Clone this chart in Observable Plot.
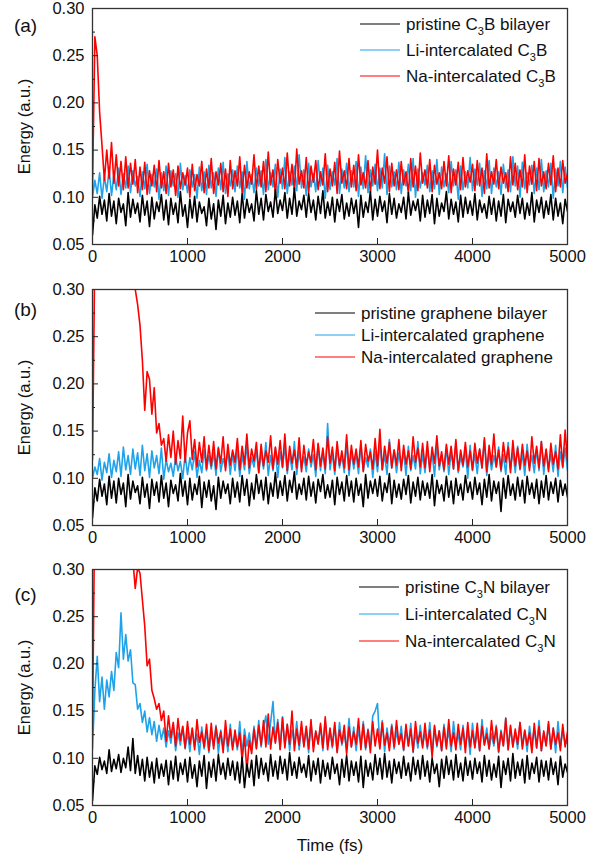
<!DOCTYPE html>
<html><head><meta charset="utf-8">
<script src="https://cdn.jsdelivr.net/npm/d3@7"></script>
<script src="https://cdn.jsdelivr.net/npm/@observablehq/plot@0.6"></script>
<style>
body{margin:0;background:#fff;}
#chart{width:599px;}
#chart svg{display:block;}
</style></head><body><div id="chart"></div>
<script>
// sampling interval of the time series (fs)
const timeStepFs = 25;
const xTicks = [0, 1000, 2000, 3000, 4000, 5000];
const yTicks = [0.05, 0.10, 0.15, 0.20, 0.25, 0.30];
const yMinorTicks = [0.075, 0.125, 0.175, 0.225, 0.275];
const panelLabels = ["(a)", "(b)", "(c)"];
const namesC3B = ["pristine C_3B bilayer", "Li-intercalated C_3B", "Na-intercalated C_3B"];
const namesGraphene = ["pristine graphene bilayer", "Li-intercalated graphene", "Na-intercalated graphene"];
const namesC3N = ["pristine C_3N bilayer", "Li-intercalated C_3N", "Na-intercalated C_3N"];
const seriesColors = ["#000000", "#1ea3ea", "#ff0000"];

// ---- (a) C3B ----
const pristineC3B = [
.060,.092,.078,.101,.082,.097,.075,.104,.080,.096,
.072,.099,.084,.093,.070,.105,.079,.098,.083,.094,
.074,.102,.081,.096,.069,.100,.077,.095,.085,.103,
.076,.097,.071,.099,.082,.094,.073,.106,.080,.092,
.068,.098,.078,.101,.074,.095,.083,.090,.070,.099,
.077,.093,.066,.097,.080,.102,.072,.094,.079,.100,
.081,.096,.073,.104,.078,.098,.084,.093,.075,.107,
.082,.099,.076,.103,.085,.095,.079,.108,.083,.097,
.086,.105,.078,.099,.082,.110,.080,.096,.087,.102,
.079,.104,.084,.097,.076,.101,.083,.107,.078,.095,
.081,.100,.074,.098,.085,.103,.077,.094,.080,.099,
.083,.097,.068,.102,.079,.095,.084,.106,.076,.098,
.080,.101,.085,.096,.073,.104,.082,.099,.078,.093,
.084,.100,.077,.105,.081,.096,.086,.098,.075,.102,
.079,.097,.083,.103,.072,.099,.080,.094,.085,.106,
.077,.098,.082,.095,.074,.102,.079,.100,.083,.096,
.081,.104,.076,.097,.084,.093,.078,.101,.082,.099,
.075,.096,.080,.103,.073,.098,.085,.095,.079,.102,
.083,.099,.077,.094,.081,.105,.074,.097,.084,.100,
.078,.096,.082,.103,.076,.099,.080,.094,.072,.098,
.085];
const liC3B = [
.100,.118,.104,.126,.099,.122,.106,.130,.102,.124,
.108,.131,.103,.125,.110,.133,.105,.128,.112,.122,
.101,.127,.109,.135,.104,.124,.111,.130,.098,.126,
.107,.133,.102,.128,.112,.125,.100,.136,.108,.123,
.105,.129,.111,.124,.099,.132,.107,.127,.103,.134,
.110,.126,.101,.131,.108,.137,.104,.125,.112,.129,
.106,.133,.110,.127,.098,.138,.109,.124,.105,.131,
.112,.128,.103,.140,.108,.126,.111,.135,.100,.130,
.109,.142,.104,.127,.113,.133,.107,.145,.110,.129,
.102,.136,.111,.125,.106,.139,.112,.131,.099,.134,
.108,.127,.113,.141,.104,.130,.110,.136,.106,.128,
.111,.138,.101,.132,.109,.144,.105,.129,.112,.135,
.107,.131,.110,.146,.103,.133,.111,.127,.108,.137,
.104,.129,.112,.135,.107,.141,.100,.130,.110,.126,
.113,.134,.106,.128,.109,.140,.103,.132,.111,.125,
.105,.138,.112,.129,.098,.133,.108,.127,.110,.142,
.107,.130,.113,.136,.101,.128,.109,.139,.104,.131,
.111,.127,.103,.135,.110,.129,.106,.143,.112,.133,
.100,.137,.109,.126,.113,.134,.104,.131,.108,.140,
.106,.128,.111,.136,.099,.130,.112,.138,.105,.132,
.110];
const naC3B = [
.110,.270,.250,.190,.155,.118,.150,.120,.158,.115,
.145,.112,.138,.108,.143,.110,.136,.114,.140,.105,
.132,.108,.137,.103,.128,.112,.134,.106,.139,.110,
.127,.104,.136,.111,.129,.102,.133,.109,.126,.113,
.131,.100,.135,.107,.124,.112,.138,.105,.130,.110,
.141,.104,.127,.113,.136,.106,.130,.101,.139,.109,
.128,.112,.143,.105,.134,.110,.127,.114,.145,.108,
.133,.111,.138,.106,.148,.113,.129,.104,.140,.115,
.131,.109,.147,.112,.135,.107,.151,.114,.128,.110,
.142,.105,.133,.116,.139,.108,.127,.113,.146,.106,
.130,.112,.137,.104,.149,.115,.128,.109,.141,.111,
.134,.107,.145,.113,.126,.110,.139,.105,.132,.114,
.150,.109,.131,.115,.143,.106,.136,.112,.129,.108,
.138,.113,.127,.104,.141,.111,.133,.107,.147,.115,
.129,.110,.140,.106,.134,.114,.126,.109,.138,.112,
.144,.105,.130,.113,.137,.108,.142,.111,.128,.116,
.135,.107,.139,.112,.131,.104,.146,.110,.127,.114,
.140,.109,.132,.115,.126,.106,.143,.113,.136,.108,
.129,.111,.145,.105,.133,.114,.138,.107,.141,.112,
.127,.109,.136,.113,.144,.106,.131,.111,.139,.115,
.125];

// ---- (b) graphene ----
const pristineGraphene = [
.058,.090,.076,.099,.081,.094,.072,.102,.079,.097,
.074,.100,.083,.095,.070,.104,.078,.097,.085,.092,
.073,.101,.080,.094,.068,.099,.082,.096,.075,.103,
.079,.095,.070,.098,.084,.093,.076,.105,.081,.097,
.072,.100,.077,.094,.083,.102,.069,.096,.080,.098,
.076,.092,.067,.101,.079,.097,.084,.094,.073,.100,
.080,.096,.075,.103,.082,.099,.071,.095,.078,.104,
.084,.098,.077,.101,.073,.095,.081,.106,.079,.097,
.082,.103,.076,.098,.085,.107,.078,.094,.083,.100,
.077,.102,.081,.096,.074,.099,.086,.104,.079,.093,
.080,.098,.072,.101,.083,.096,.076,.103,.081,.097,
.075,.100,.082,.094,.070,.104,.079,.097,.084,.099,
.081,.102,.076,.095,.085,.105,.073,.098,.080,.094,
.078,.099,.083,.103,.074,.096,.081,.101,.077,.097,
.082,.095,.079,.104,.071,.098,.084,.093,.076,.102,
.080,.097,.073,.100,.082,.094,.077,.103,.085,.096,
.078,.101,.083,.095,.072,.099,.080,.104,.076,.097,
.084,.096,.065,.100,.079,.103,.082,.094,.077,.101,
.081,.098,.074,.102,.083,.095,.079,.099,.073,.097,
.080,.103,.077,.096,.084,.100,.075,.098,.082,.094,
.080];
const liGraphene = [
.100,.112,.104,.121,.098,.117,.106,.126,.101,.119,
.107,.128,.102,.133,.109,.124,.104,.131,.110,.127,
.103,.135,.108,.126,.101,.129,.111,.124,.105,.132,
.099,.120,.107,.116,.102,.123,.108,.118,.100,.125,
.104,.122,.109,.128,.101,.119,.106,.130,.108,.124,
.110,.127,.103,.133,.107,.121,.111,.129,.104,.126,
.108,.131,.102,.125,.109,.136,.105,.122,.112,.130,
.106,.127,.110,.138,.103,.124,.108,.132,.101,.128,
.111,.134,.105,.126,.109,.139,.104,.129,.110,.123,
.107,.131,.112,.125,.102,.136,.108,.128,.105,.158,
.109,.127,.104,.133,.111,.124,.106,.138,.103,.129,
.110,.126,.105,.135,.108,.122,.112,.131,.101,.128,
.107,.137,.109,.125,.104,.141,.111,.130,.106,.127,
.112,.129,.103,.134,.108,.124,.110,.139,.105,.126,
.106,.132,.111,.127,.102,.136,.109,.125,.107,.133,
.104,.128,.110,.137,.106,.123,.112,.130,.100,.135,
.108,.126,.105,.131,.111,.140,.103,.127,.109,.124,
.112,.133,.107,.125,.104,.138,.110,.129,.106,.134,
.109,.127,.103,.136,.111,.124,.106,.131,.108,.139,
.104,.130,.110,.126,.107,.135,.102,.128,.111,.132,
.108];
const naGraphene = [
.120,.345,.380,.400,.395,.385,.375,.365,.360,.350,
.345,.340,.335,.330,.325,.318,.312,.310,.300,.284,
.262,.225,.172,.213,.205,.168,.196,.148,.158,.135,
.142,.118,.146,.122,.150,.115,.140,.121,.166,.117,
.148,.161,.120,.141,.112,.138,.117,.144,.110,.135,
.113,.139,.110,.132,.116,.144,.108,.136,.114,.130,
.117,.142,.109,.134,.115,.147,.111,.131,.118,.138,
.106,.136,.113,.129,.117,.145,.110,.133,.115,.140,
.112,.147,.108,.134,.116,.130,.111,.143,.107,.135,
.114,.128,.117,.141,.109,.137,.113,.132,.110,.144,
.116,.133,.108,.139,.114,.129,.111,.146,.109,.135,
.115,.131,.112,.140,.107,.136,.118,.128,.110,.142,
.113,.152,.109,.134,.116,.138,.111,.130,.114,.141,
.108,.135,.115,.129,.110,.144,.117,.132,.112,.137,
.111,.139,.107,.133,.116,.145,.113,.128,.109,.136,
.115,.134,.110,.141,.108,.130,.114,.138,.112,.129,
.109,.137,.116,.131,.111,.143,.107,.135,.115,.147,
.112,.130,.109,.138,.117,.133,.106,.140,.113,.132,
.110,.136,.114,.129,.108,.144,.116,.134,.111,.139,
.113,.131,.107,.137,.115,.128,.110,.146,.112,.151,
.118];

// ---- (c) C3N ----
const pristineC3N = [
.055,.092,.083,.101,.088,.097,.084,.109,.086,.099,
.089,.104,.085,.100,.090,.112,.087,.121,.084,.103,
.082,.099,.076,.101,.080,.096,.074,.100,.079,.094,
.081,.098,.072,.097,.078,.102,.076,.095,.083,.099,
.075,.101,.079,.093,.070,.097,.081,.103,.068,.096,
.080,.099,.076,.104,.083,.095,.078,.100,.082,.097,
.077,.096,.074,.101,.069,.094,.080,.098,.071,.103,
.079,.100,.083,.095,.076,.104,.081,.097,.078,.102,
.084,.099,.077,.106,.082,.096,.079,.101,.085,.094,
.080,.103,.076,.097,.083,.100,.074,.098,.081,.095,
.078,.101,.084,.094,.072,.099,.080,.103,.076,.097,
.082,.096,.075,.102,.069,.098,.081,.095,.077,.104,
.083,.100,.078,.105,.080,.097,.074,.099,.084,.096,
.079,.102,.082,.095,.076,.101,.083,.098,.078,.103,
.081,.097,.075,.100,.084,.094,.070,.099,.079,.102,
.083,.098,.077,.104,.080,.095,.076,.101,.082,.097,
.078,.100,.084,.096,.075,.103,.081,.098,.077,.094,
.080,.102,.069,.097,.083,.100,.076,.105,.079,.096,
.082,.099,.074,.103,.078,.095,.084,.101,.075,.098,
.081,.097,.077,.100,.083,.096,.072,.102,.080,.094,
.085];
const liC3N = [
.110,.172,.208,.160,.186,.152,.183,.165,.192,.172,
.212,.196,.254,.205,.231,.203,.215,.180,.178,.152,
.158,.138,.150,.128,.143,.125,.139,.118,.135,.120,
.132,.112,.129,.116,.136,.108,.127,.114,.133,.110,
.128,.107,.131,.112,.126,.104,.133,.110,.129,.106,
.127,.113,.135,.105,.130,.111,.128,.107,.136,.112,
.125,.109,.139,.104,.131,.113,.127,.108,.134,.111,
.140,.112,.133,.145,.115,.138,.160,.117,.141,.110,
.144,.113,.136,.108,.130,.115,.139,.109,.133,.114,
.131,.106,.137,.112,.128,.116,.134,.108,.140,.113,
.129,.111,.135,.107,.138,.114,.126,.110,.142,.112,
.133,.108,.130,.115,.139,.109,.131,.113,.145,.150,
.158,.112,.140,.107,.132,.114,.136,.110,.129,.115,
.134,.108,.131,.113,.137,.106,.128,.111,.135,.114,
.127,.110,.138,.105,.133,.112,.129,.108,.136,.113,
.130,.107,.139,.114,.126,.109,.135,.111,.131,.104,
.137,.112,.128,.108,.141,.115,.132,.110,.126,.113,
.135,.106,.130,.114,.143,.109,.133,.112,.128,.110,
.138,.113,.129,.107,.134,.115,.131,.111,.140,.108,
.127,.114,.136,.110,.132,.106,.139,.112,.130,.115,
.118];
const naC3N = [
.130,.380,.420,.450,.440,.430,.420,.410,.400,.390,
.380,.370,.360,.350,.340,.330,.320,.310,.280,.302,
.296,.268,.240,.198,.205,.172,.163,.152,.158,.140,
.150,.118,.145,.122,.138,.113,.142,.119,.134,.111,
.139,.115,.132,.109,.141,.117,.128,.112,.136,.108,
.137,.110,.133,.116,.128,.106,.140,.113,.131,.109,
.130,.112,.127,.098,.124,.086,.119,.105,.131,.110,
.135,.114,.140,.112,.147,.110,.133,.116,.138,.109,
.143,.111,.136,.115,.150,.108,.131,.114,.139,.112,
.134,.110,.141,.107,.129,.115,.137,.111,.144,.109,
.132,.113,.138,.106,.130,.116,.135,.104,.133,.112,
.128,.115,.142,.109,.136,.111,.130,.106,.139,.113,
.131,.110,.138,.114,.127,.108,.134,.112,.140,.115,
.126,.109,.136,.113,.131,.107,.139,.116,.128,.111,
.137,.112,.130,.101,.135,.114,.129,.108,.133,.110,
.141,.113,.127,.109,.136,.115,.132,.106,.138,.112,
.129,.111,.137,.108,.134,.114,.126,.110,.140,.116,
.133,.107,.128,.113,.142,.109,.135,.112,.131,.115,
.138,.110,.130,.114,.127,.106,.137,.111,.134,.108,
.129,.113,.139,.110,.132,.115,.127,.108,.136,.112,
.128];

const panels = [
  {label: panelLabels[0], names: namesC3B, series: [pristineC3B, liC3B, naC3B],
   marginTop: 8, marginBottom: 35, labelDy: 10, legendX: 268, legendRows: [16, 42, 68]},
  {label: panelLabels[1], names: namesGraphene, series: [pristineGraphene, liGraphene, naGraphene],
   marginTop: 10, marginBottom: 35, labelDy: 13, legendX: 223, legendRows: [24, 46, 68]},
  {label: panelLabels[2], names: namesC3N, series: [pristineC3N, liC3N, naC3N],
   marginTop: 9, marginBottom: 58, labelDy: 18, legendX: 267, legendRows: [18, 45, 72]}
];

const FONT = "'Liberation Sans', Arial, Helvetica, sans-serif";
const chart = document.getElementById("chart");

panels.forEach((p, i) => {
  const last = i === panels.length - 1;
  const mt = p.marginTop, mb = p.marginBottom;
  const h = mt + 236 + mb;
  const lineOf = (vals, color) => Plot.line(vals, {
    x: (d, j) => j * timeStepFs, y: d => d, stroke: color, strokeWidth: 1.6, clip: true
  });
  const marks = [
    lineOf(p.series[1], seriesColors[1]),
    lineOf(p.series[2], seriesColors[2]),
    lineOf(p.series[0], seriesColors[0]),
    Plot.axisY({ticks: yMinorTicks, tickSize: -3, fill: "none", label: null, stroke: "#222"}),
    Plot.axisY({ticks: yTicks, tickSize: -6, tickPadding: 14, tickFormat: d3.format(".2f"), label: null, fontSize: 16.5, stroke: "#222", fill: "#111"}),
    Plot.axisX({ticks: xTicks, tickSize: -6, tickPadding: 12, tickFormat: d => String(d), label: null, fontSize: 16.5, stroke: "#222", fill: "#111"}),
    Plot.frame({stroke: "#333", strokeWidth: 1.3}),
    Plot.text([p.label], {text: d => d, frameAnchor: "top-left", dx: -67, dy: p.labelDy, fontSize: 19, textAnchor: "middle", fill: "#111"}),
    Plot.text(["Energy (a.u.)"], {text: d => d, frameAnchor: "left", rotate: -90, dx: -68, fontSize: 16.5, textAnchor: "middle", fill: "#111"})
  ];
  if (last) marks.push(Plot.text(["Time (fs)"], {text: d => d, frameAnchor: "bottom", dy: 45, fontSize: 17, fill: "#111"}));
  const svg = Plot.plot({
    width: 599, height: h,
    marginLeft: 92, marginRight: 32, marginTop: mt, marginBottom: mb,
    x: {domain: [0, 5000]},
    y: {domain: [0.05, 0.30]},
    style: {fontFamily: FONT, fontSize: "16.5px", background: "white", color: "#111"},
    marks
  });
  // legend inside the frame, top-right
  const g = d3.select(svg).append("g").attr("font-family", FONT).attr("font-size", 17)
    .attr("fill", "#111").attr("text-anchor", "start");
  p.names.forEach((name, k) => {
    const y = mt + p.legendRows[k];
    const x0 = 92 + p.legendX;
    g.append("line").attr("x1", x0).attr("x2", x0 + 40).attr("y1", y).attr("y2", y)
      .attr("stroke", seriesColors[k]).attr("stroke-width", 1.2);
    const t = g.append("text").attr("x", x0 + 46).attr("y", y).attr("dy", "0.35em");
    const parts = name.split("_");
    t.append("tspan").text(parts[0]);
    if (parts.length > 1) {
      t.append("tspan").attr("font-size", 11).attr("dy", 5).text(parts[1][0]);
      t.append("tspan").attr("dy", -5).text(parts[1].slice(1));
    }
  });
  chart.appendChild(svg);
});
</script></body></html>
